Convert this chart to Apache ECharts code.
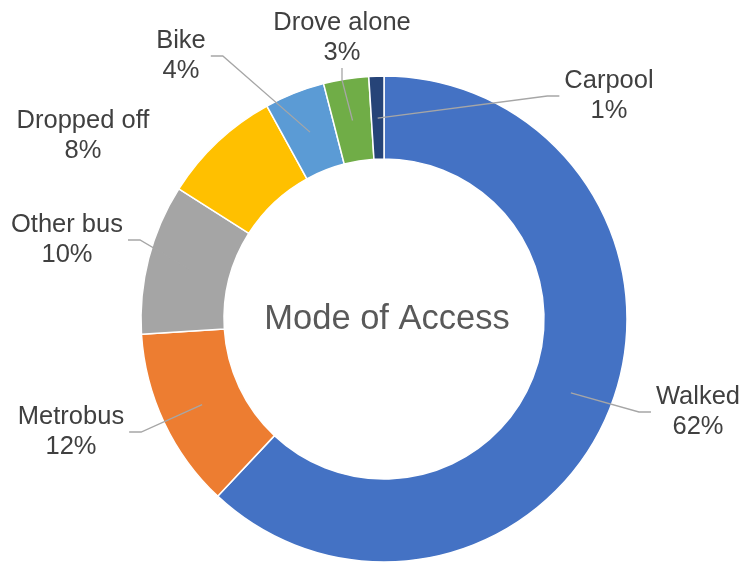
<!DOCTYPE html>
<html>
<head>
<meta charset="utf-8">
<script src="https://cdn.jsdelivr.net/npm/echarts@6/dist/echarts.min.js"></script>
<style>
  html, body { margin: 0; padding: 0; background: #ffffff; }
  #chart { width: 746px; height: 563px; }
</style>
</head>
<body>
<div id="chart"></div>
<script>
// ---- data ----
const categories = ['Walked', 'Metrobus', 'Other bus', 'Dropped off', 'Bike', 'Drove alone', 'Carpool'];
const shares = [62, 12, 10, 8, 4, 3, 1];
const centerTitle = 'Mode of Access';

// ---- styling / layout (not data) ----
const palette = ['#4472C4', '#ED7D31', '#A5A5A5', '#FFC000', '#5B9BD5', '#70AD47', '#264478'];
const labelAnchors = [
  [698, 412], // Walked
  [71, 432],  // Metrobus
  [67, 240],  // Other bus
  [83, 136],  // Dropped off
  [181, 56],  // Bike
  [342, 38],  // Drove alone
  [609, 96]   // Carpool
];
const hideLine = [false, false, false, true, false, false, false];

const pieData = categories.map((name, i) => ({
  name: name,
  value: shares[i],
  itemStyle: { color: palette[i] }
}));

const labelData = categories.map((name, i) => ({
  name: name,
  value: shares[i],
  labelLine: { show: !hideLine[i] }
}));

const chart = echarts.init(document.getElementById('chart'), null, { renderer: 'canvas' });
chart.setOption({
  animation: false,
  backgroundColor: '#ffffff',
  graphic: [{
    type: 'text',
    x: 387,
    y: 319,
    style: {
      text: centerTitle,
      fill: '#595959',
      font: '34.5px "Liberation Sans", Arial, sans-serif',
      textAlign: 'center',
      textVerticalAlign: 'middle'
    }
  }],
  series: [
    {
      type: 'pie',
      center: [384, 319],
      radius: [160, 243],
      startAngle: 90,
      clockwise: true,
      silent: true,
      avoidLabelOverlap: false,
      label: { show: false },
      labelLine: { show: false },
      itemStyle: { borderColor: '#ffffff', borderWidth: 1.5 },
      data: pieData
    },
    {
      type: 'pie',
      center: [384, 319],
      radius: [0, 201],
      startAngle: 90,
      clockwise: true,
      silent: true,
      z: 5,
      avoidLabelOverlap: false,
      itemStyle: { color: 'rgba(0,0,0,0)', borderWidth: 0 },
      label: {
        show: true,
        position: 'outside',
        formatter: '{b}\n{c}%',
        color: '#404040',
        fontFamily: '"Liberation Sans", Arial, sans-serif',
        fontSize: 25.5,
        lineHeight: 30,
        align: 'center',
        padding: [0, 5]
      },
      labelLine: {
        show: true,
        length: 10,
        length2: 12,
        lineStyle: { color: '#A6A6A6', width: 1.3 }
      },
      labelLayout: function (params) {
        const p = labelAnchors[params.dataIndex];
        return { x: p[0], y: p[1], align: 'center', verticalAlign: 'middle' };
      },
      data: labelData
    }
  ]
});
</script>
</body>
</html>
